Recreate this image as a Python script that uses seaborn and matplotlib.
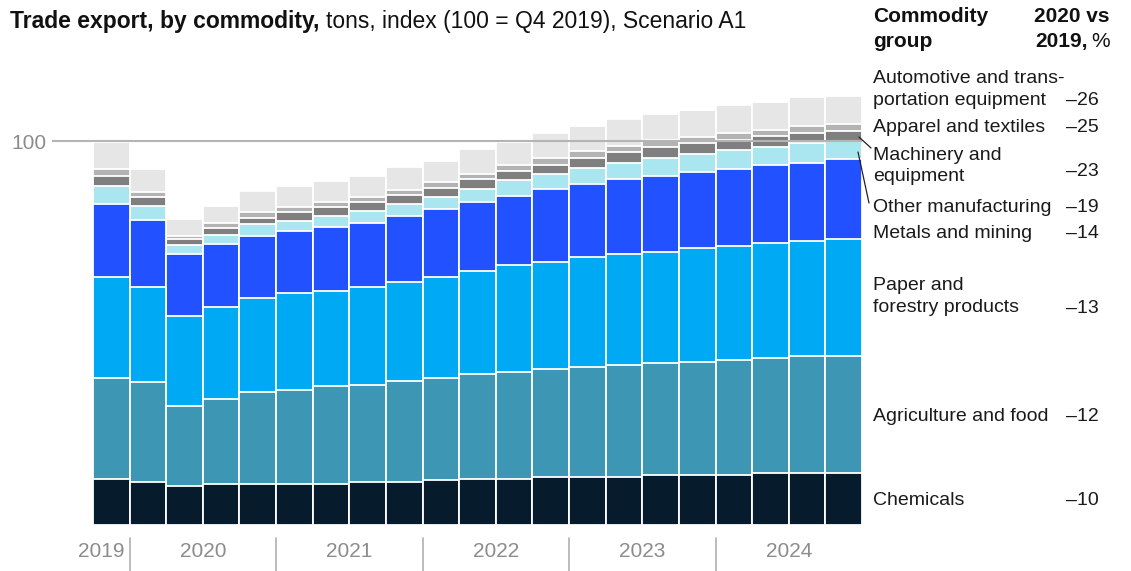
import numpy as np
import pandas as pd
import matplotlib
matplotlib.use("Agg")
import matplotlib.pyplot as plt
import seaborn as sns

# Data (index, 100 = Q4 2019)
quarters = ["Q4 2019"] + [f"Q{q} {y}" for y in range(2020, 2025) for q in range(1, 5)]
chemicals = [12.1, 11.2, 10.2, 10.7, 10.7, 10.7, 10.7, 11.2, 11.2, 11.6, 12.1,
             12.1, 12.6, 12.6, 12.6, 13.0, 13.0, 13.0, 13.5, 13.5, 13.5]
agriculture = [26.3, 26.0, 20.8, 22.2, 24.0, 24.5, 25.5, 25.3, 26.3, 26.7, 27.3,
               27.8, 28.1, 28.6, 29.1, 29.2, 29.4, 30.0, 30.0, 30.6, 30.6]
paper = [26.3, 24.8, 23.5, 24.0, 24.5, 25.1, 24.8, 25.5, 25.8, 26.4, 26.7,
         27.7, 27.8, 28.7, 29.0, 29.0, 29.7, 29.7, 30.0, 30.0, 30.4]
metals = [18.9, 17.5, 16.2, 16.2, 16.2, 16.2, 16.7, 16.7, 17.2, 17.5, 18.0,
          18.0, 18.9, 18.9, 19.4, 19.8, 19.8, 20.1, 20.2, 20.3, 20.7]
other_manuf = [4.8, 3.7, 2.3, 2.5, 2.9, 2.6, 2.9, 3.2, 3.1, 3.2, 3.3,
               4.2, 4.0, 4.2, 4.3, 4.7, 4.7, 4.8, 4.8, 5.1, 4.7]
machinery = [2.6, 2.3, 1.4, 1.8, 1.7, 2.3, 2.3, 2.3, 2.4, 2.3, 2.8,
             2.3, 2.3, 2.7, 2.7, 2.8, 2.8, 2.8, 2.7, 2.7, 2.8]
apparel = [1.7, 1.3, 0.9, 1.3, 1.4, 1.4, 1.3, 1.2, 1.2, 1.7, 1.3,
           1.7, 1.8, 1.8, 1.7, 1.8, 1.6, 1.7, 1.8, 1.7, 1.7]
automotive = [7.0, 5.9, 4.5, 4.5, 5.5, 5.4, 5.5, 5.5, 6.0, 5.5, 6.4,
              6.0, 6.5, 6.4, 6.9, 6.8, 7.0, 7.4, 7.3, 7.5, 7.4]

years = ["2019", "2020", "2021", "2022", "2023", "2024"]
year_centers = [0.35, 2.5, 6.5, 10.5, 14.5, 18.5]
year_breaks = [0.5, 4.5, 8.5, 12.5, 16.5]

# bottom -> top
stack_names = ["Chemicals", "Agriculture", "Paper", "Metals", "Other", "Machinery", "Apparel", "Automotive"]
stack_colors = ["#061c2c", "#3d96b4", "#00a9f4", "#2251ff", "#aae6f0", "#7f7f7f", "#b3b3b3", "#e6e6e6"]

# right-hand labels, top -> bottom
labels = ["Automotive and trans-\nportation equipment", "Apparel and textiles",
          "Machinery and\nequipment", "Other manufacturing", "Metals and mining",
          "Paper and\nforestry products", "Agriculture and food", "Chemicals"]
changes = ["\u201326", "\u201325", "\u201323", "\u201319", "\u201314", "\u201313", "\u201312", "\u201310"]

df = pd.DataFrame({
    "quarter": quarters,
    "Chemicals": chemicals, "Agriculture": agriculture, "Paper": paper,
    "Metals": metals, "Other": other_manuf, "Machinery": machinery,
    "Apparel": apparel, "Automotive": automotive,
})
cum = df[stack_names].cumsum(axis=1)

sns.set_style("white")
plt.rcParams["font.family"] = ["Liberation Sans", "DejaVu Sans"]

W, H = 1131, 571
fig = plt.figure(figsize=(W / 100, H / 100), dpi=100)
ax = fig.add_axes([52 / W, (H - 525) / H, 810 / W, 435 / H])


def fx(px):
    return px / W


def fy(py):
    return 1 - py / H


# stacked bars: draw cumulative totals from the top layer down
for name, color in zip(stack_names[::-1], stack_colors[::-1]):
    sns.barplot(x=df["quarter"], y=cum[name], color=color, width=1.0,
                saturation=1, errorbar=None, edgecolor="white", linewidth=1.3, ax=ax)

ax.axhline(100, color="#b4b4b4", lw=1.5, zorder=5)
ax.set_xlim(-1.62, 20.5)
ax.set_ylim(0, 113.3)
ax.set_xlabel("")
ax.set_ylabel("")
ax.set_xticks([])
ax.set_yticks([100])
ax.set_yticklabels(["100"])
ax.tick_params(axis="y", length=0, pad=4, labelsize=15, labelcolor="#8c8c8c")
sns.despine(ax=ax, left=True, bottom=True)

# year axis
trans = ax.get_xaxis_transform()
for xb in year_breaks:
    ax.plot([xb, xb], [-0.030, -0.106], transform=trans, color="#b0b0b0", lw=1.2, clip_on=False)
for yr, xc in zip(years, year_centers):
    ax.text(xc, -0.073, yr, transform=trans, ha="right" if yr == "2019" else "center",
            va="baseline", fontsize=15, color="#8c8c8c")

# title
t1 = fig.text(fx(10), fy(28), "Trade export, by commodity,", fontsize=16.5,
              fontweight="bold", color="#111111", va="baseline")
fig.canvas.draw()
r = fig.canvas.get_renderer()
bb = t1.get_window_extent(renderer=r)
fig.text(fx(bb.x1 + 7), fy(28), "tons, index (100 = Q4 2019), Scenario A1",
         fontsize=16.5, color="#111111", va="baseline")

# column headers
fig.text(fx(873), fy(22), "Commodity", fontsize=15, fontweight="bold", color="#111111", va="baseline")
fig.text(fx(873), fy(47), "group", fontsize=15, fontweight="bold", color="#111111", va="baseline")
fig.text(fx(1110), fy(22), "2020 vs", fontsize=15, fontweight="bold", color="#111111",
         va="baseline", ha="right")
pct = fig.text(fx(1110), fy(47), "%", fontsize=15, color="#111111", va="baseline", ha="right")
bb = pct.get_window_extent(renderer=r)
fig.text(fx(bb.x0 - 4), fy(47), "2019,", fontsize=15, fontweight="bold", color="#111111",
         va="baseline", ha="right")

# series labels
label_lines = [[83, 105], [132], [160, 181], [212], [238], [290, 312], [421], [505]]
change_y = [105, 132, 176, 212, 238, 313, 421, 505]
for lab, ys, ch, cy in zip(labels, label_lines, changes, change_y):
    for line, yy in zip(lab.split("\n"), ys):
        fig.text(fx(873), fy(yy), line, fontsize=14, color="#1a1a1a", va="baseline")
    fig.text(fx(1099), fy(cy), ch, fontsize=14, color="#1a1a1a", va="baseline", ha="right")

# leader lines
for (x0, y0), (x1, y1) in [((859, 137), (871, 148)), ((858, 152), (869, 203))]:
    fig.add_artist(plt.Line2D([fx(x0), fx(x1)], [fy(y0), fy(y1)], color="#222222", lw=0.9,
                              transform=fig.transFigure))

fig.savefig("out.png", dpi=100)
